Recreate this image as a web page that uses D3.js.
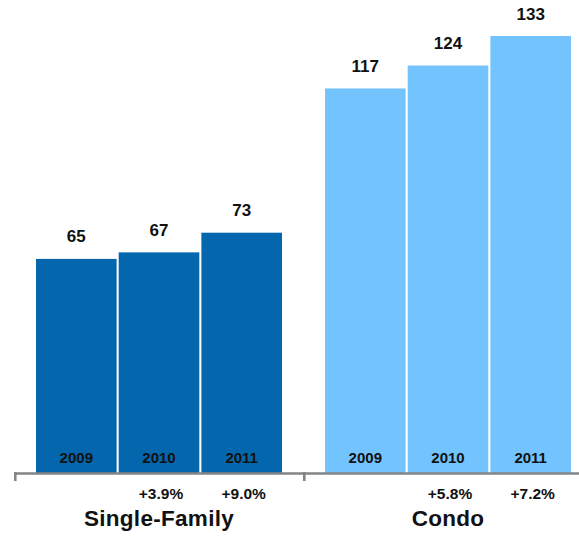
<!DOCTYPE html>
<html>
<head>
<meta charset="utf-8">
<script src="https://cdn.jsdelivr.net/npm/d3@7"></script>
<style>
  body { margin: 0; background: #fff; }
  text { font-family: "Liberation Sans", Arial, Helvetica, sans-serif; font-weight: bold; fill: #111; }
</style>
</head>
<body>
<div id="chart"></div>
<script>
// Median price per category and year (thousands)
const groups = ["Single-Family", "Condo"];
const years = ["2009", "2010", "2011"];
const singleFamily = [65, 67, 73];
const condo = [117, 124, 133];
const singleFamilyChange = ["", "+3.9%", "+9.0%"];
const condoChange = ["", "+5.8%", "+7.2%"];
const colors = ["#0466ad", "#73c4fe"];

const data = groups.map((g, i) => ({
    group: g,
    color: colors[i],
    bars: years.map((y, j) => ({
        year: y,
        value: (i === 0 ? singleFamily : condo)[j],
        change: (i === 0 ? singleFamilyChange : condoChange)[j]
    }))
}));

const width = 579, height = 536;
const baseline = 472;

const svg = d3.select("#chart")
    .append("svg")
    .attr("width", width)
    .attr("height", height);

// One band per category; ticks sit on the band boundaries
const x = d3.scaleBand()
    .domain(groups)
    .range([14, 592])
    .padding(0);

// Bars inside each category band
const xInner = d3.scaleBand()
    .domain(years)
    .range([22, x.bandwidth() - 21])
    .paddingInner(0.025);

const y = d3.scaleLinear()
    .domain([0, 133])
    .range([baseline, 36]);

const g = svg.selectAll("g.group")
    .data(data)
    .enter()
    .append("g")
    .attr("class", "group")
    .attr("transform", d => "translate(" + x(d.group) + ",0)");

// bars
g.selectAll("rect")
    .data(d => d.bars.map(b => Object.assign({color: d.color}, b)))
    .enter()
    .append("rect")
    .attr("x", d => xInner(d.year))
    .attr("y", d => y(d.value))
    .attr("width", xInner.bandwidth())
    .attr("height", d => y(0) - y(d.value) + 1)
    .attr("fill", d => d.color);

// value labels on top
g.selectAll("text.value")
    .data(d => d.bars)
    .enter()
    .append("text")
    .attr("class", "value")
    .attr("x", d => xInner(d.year) + xInner.bandwidth() / 2)
    .attr("y", d => y(d.value) - 16.5)
    .attr("text-anchor", "middle")
    .style("font-size", "17px")
    .text(d => d.value);

// year labels inside the bars
g.selectAll("text.year")
    .data(d => d.bars)
    .enter()
    .append("text")
    .attr("class", "year")
    .attr("x", d => xInner(d.year) + xInner.bandwidth() / 2)
    .attr("y", baseline - 9.5)
    .attr("text-anchor", "middle")
    .style("font-size", "15px")
    .text(d => d.year);

// year-over-year change under the axis
g.selectAll("text.change")
    .data(d => d.bars)
    .enter()
    .append("text")
    .attr("class", "change")
    .attr("x", d => xInner(d.year) + xInner.bandwidth() / 2 + 2)
    .attr("y", baseline + 27)
    .attr("text-anchor", "middle")
    .style("font-size", "15.5px")
    .text(d => d.change);

// category names
g.append("text")
    .attr("x", xInner("2010") + xInner.bandwidth() / 2)
    .attr("y", baseline + 54)
    .attr("text-anchor", "middle")
    .style("font-size", "22.5px")
    .style("letter-spacing", "0.3px")
    .text(d => d.group);

// axis line with boundary ticks
const axis = svg.append("g").attr("stroke", "#858585").attr("stroke-width", 2.6);
axis.append("line")
    .attr("x1", x.range()[0])
    .attr("x2", x.range()[1])
    .attr("y1", baseline + 1.5)
    .attr("y2", baseline + 1.5);
axis.selectAll("line.tick")
    .data(groups)
    .enter()
    .append("line")
    .attr("class", "tick")
    .attr("x1", d => x(d) + 1.3)
    .attr("x2", d => x(d) + 1.3)
    .attr("y1", baseline)
    .attr("y2", baseline + 9);
</script>
</body>
</html>
